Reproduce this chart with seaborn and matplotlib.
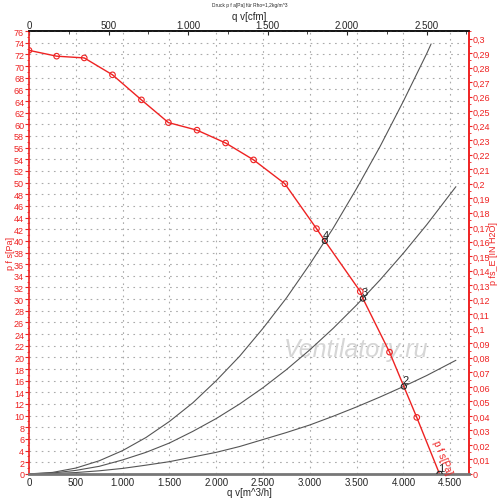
import numpy as np
import pandas as pd
import matplotlib
matplotlib.use("Agg")
import matplotlib.pyplot as plt
from matplotlib.ticker import FuncFormatter, FixedLocator, MultipleLocator
import seaborn as sns

# fan curve p_fs over q_v (m^3/h, Pa)
fan_flow = [0, 295, 590, 892, 1201, 1489, 1795, 2100, 2399, 2733, 3071, 3160,
            3539, 3567, 3851, 4004, 4142, 4385]
fan_press = [72.7, 71.7, 71.4, 68.5, 64.2, 60.3, 59.0, 56.8, 53.9, 49.8, 42.1, 40.0,
             31.3, 30.1, 20.9, 15.0, 9.7, 0.0]
mark_flow = [0, 295, 590, 892, 1201, 1489, 1795, 2100, 2399, 2733, 3071, 3539, 3851, 4142]
mark_press = [72.7, 71.7, 71.4, 68.5, 64.2, 60.3, 59.0, 56.8, 53.9, 49.8, 42.1, 31.3, 20.9, 9.7]

# system curves
sys_flow_a = [0, 250, 500, 750, 1000, 1250, 1500, 1750, 2000, 2250, 2500, 2750,
              3000, 3250, 3500, 3750, 4000, 4250, 4295]
sys_press_a = [0, 0.25, 1.0, 2.25, 4.0, 6.25, 9.0, 12.2, 16.0, 20.2, 25.0, 30.2,
               36.0, 42.2, 49.0, 56.2, 64.0, 72.2, 73.8]
sys_flow_b = [0, 250, 500, 750, 1000, 1250, 1500, 1750, 2000, 2250, 2500, 2750,
              3000, 3250, 3500, 3750, 4000, 4250, 4560]
sys_press_b = [0, 0.15, 0.6, 1.3, 2.4, 3.7, 5.3, 7.3, 9.5, 12.0, 14.8, 17.9,
               21.3, 25.0, 29.0, 33.3, 37.9, 42.8, 49.3]
sys_flow_c = [0, 250, 500, 750, 1000, 1250, 1500, 1750, 2000, 2250, 2500, 2750,
              3000, 3250, 3500, 3750, 4000, 4250, 4560]
sys_press_c = [0, 0.06, 0.23, 0.53, 0.94, 1.5, 2.1, 2.9, 3.7, 4.7, 5.9, 7.1,
               8.4, 9.9, 11.5, 13.2, 15.0, 16.9, 19.5]

# operating points
op_labels = ["1", "2", "3", "4"]
op_flow = [4385, 4004, 3567, 3160]
op_press = [0.0, 15.0, 30.1, 40.0]

# axis ticks
flow_ticks = [0, 500, 1000, 1500, 2000, 2500, 3000, 3500, 4000, 4500]
cfm_ticks = [0, 500, 1000, 1500, 2000, 2500]
press_ticks = list(range(0, 77, 2))
inh2o_ticks = [i / 100 for i in range(0, 31)]

RED = "#ee2222"
M3H_PER_CFM = 1.699
PA_PER_INH2O = 249.09
FS = 7
YFS = 6.5

sns.set_style("white")
plt.rcParams["font.family"] = ["Liberation Sans Narrow", "Liberation Sans", "DejaVu Sans"]

fig = plt.figure(figsize=(5.0, 5.02), dpi=100)
ax = fig.add_axes([0.058, 0.054, 0.88, 0.882])

df_sys = pd.concat([
    pd.DataFrame({"q": sys_flow_a, "p": sys_press_a, "c": "a"}),
    pd.DataFrame({"q": sys_flow_b, "p": sys_press_b, "c": "b"}),
    pd.DataFrame({"q": sys_flow_c, "p": sys_press_c, "c": "c"}),
])
sns.lineplot(data=df_sys, x="q", y="p", units="c", estimator=None, color="#555555",
             lw=0.8, ax=ax, sort=False)

sns.lineplot(x=fan_flow, y=fan_press, color=RED, lw=1.0, sort=False, ax=ax)
sns.scatterplot(x=mark_flow, y=mark_press, marker="o", s=16, ax=ax, zorder=4)
pts = ax.collections[-1]
pts.set_facecolor("none")
pts.set_edgecolor(RED)
pts.set_linewidth(0.8)

sns.scatterplot(x=op_flow, y=op_press, marker="o", s=14, ax=ax, zorder=5)
ops = ax.collections[-1]
ops.set_facecolor("none")
ops.set_edgecolor("#222222")
ops.set_linewidth(0.8)
for lab, q, p in zip(op_labels, op_flow, op_press):
    ax.annotate(lab, (q, p), xytext=(1, 4.5), textcoords="offset points",
                ha="center", va="center", fontsize=8, color="#222222")

ax.text(4420, 3.0, "p f s[Pa]", rotation=-68, color=RED, fontsize=7,
        ha="center", va="center")
ax.text(3490, 20.2, "Ventilatory.ru", fontsize=18, style="italic", color="#d6d6d6",
        ha="center", va="baseline", zorder=1, family=["Liberation Sans", "DejaVu Sans"])

ax.set_xlim(0, 4700)
ax.set_ylim(0, 76)
ax.xaxis.set_major_locator(FixedLocator(flow_ticks))
ax.yaxis.set_major_locator(FixedLocator(press_ticks))
ax.yaxis.set_minor_locator(MultipleLocator(1))
ax.xaxis.set_major_formatter(FuncFormatter(lambda v, _: f"{v:,.0f}".replace(",", ".")))
ax.grid(True, which="major", linestyle=(0, (1.5, 4)), color="#aaaaaa", lw=0.8)
ax.set_axisbelow(True)

ax.tick_params(axis="x", length=0, labelsize=FS, pad=2)
ax.tick_params(axis="y", which="major", length=3, width=0.8, color=RED,
               labelcolor=RED, labelsize=YFS, pad=0.5, left=True, direction="out")
ax.tick_params(axis="y", which="minor", length=1.5, width=0.6, color=RED, left=True,
               direction="out")
ax.set_xlabel("q v[m^3/h]", fontsize=FS, labelpad=0)
ax.set_ylabel("")

for side, c, w in [("left", RED, 1.2), ("right", RED, 1.2), ("top", "#111111", 1.2),
                   ("bottom", "#777777", 2.0)]:
    ax.spines[side].set_visible(True)
    ax.spines[side].set_color(c)
    ax.spines[side].set_linewidth(w)

top = ax.secondary_xaxis("top", functions=(lambda q: q / M3H_PER_CFM,
                                            lambda c: c * M3H_PER_CFM))
top.xaxis.set_major_locator(FixedLocator(cfm_ticks))
top.xaxis.set_minor_locator(MultipleLocator(250))
top.xaxis.set_major_formatter(FuncFormatter(lambda v, _: f"{v:,.0f}".replace(",", ".")))
top.tick_params(which="major", direction="in", length=3, labelsize=FS, pad=0.5)
top.tick_params(which="minor", direction="in", length=2)
top.spines["top"].set_color("#111111")
top.spines["top"].set_linewidth(1.2)
top.set_xlabel("q v[cfm]", fontsize=FS, labelpad=1)


def inh2o_fmt(v, _):
    s = f"{v:.2f}".rstrip("0").rstrip(".")
    return s.replace(".", ",")


right = ax.secondary_yaxis("right", functions=(lambda p: p / PA_PER_INH2O,
                                                lambda h: h * PA_PER_INH2O))
right.yaxis.set_major_locator(FixedLocator(inh2o_ticks))
right.yaxis.set_minor_locator(MultipleLocator(0.005))
right.yaxis.set_major_formatter(FuncFormatter(inh2o_fmt))
right.tick_params(which="major", length=2.5, width=0.8, color=RED, labelcolor=RED,
                  labelsize=YFS, pad=0.3, direction="out")
right.tick_params(which="minor", length=1.5, width=0.6, color=RED, direction="out")
right.spines["right"].set_color(RED)
right.spines["right"].set_linewidth(1.2)

fig.text(0.021, 0.496, "p f s[Pa]", rotation=90, fontsize=YFS, color=RED,
         ha="center", va="center")
fig.text(0.988, 0.496, "p fs_E [IN H2O]", rotation=90, fontsize=YFS, color=RED,
         ha="center", va="center")
fig.text(0.5, 0.995, "Druck p f a[Pa] für Rho=1,2kg/m^3", fontsize=3.5,
         ha="center", va="top")

fig.savefig("out.png", dpi=100)
